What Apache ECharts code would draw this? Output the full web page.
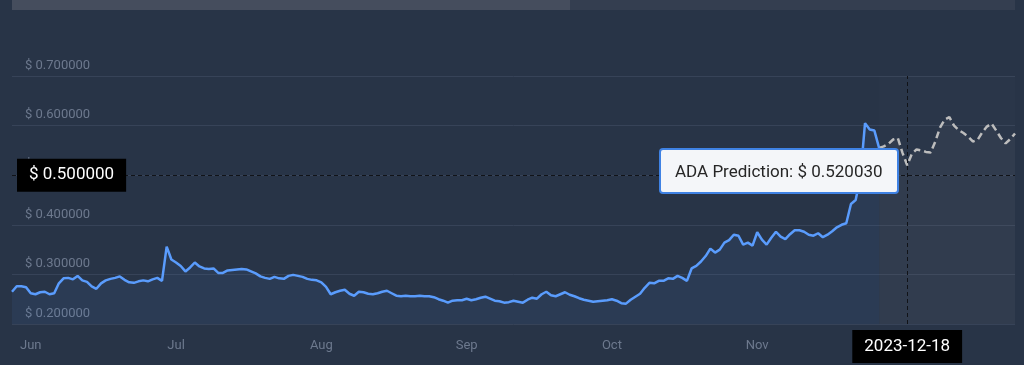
<!DOCTYPE html>
<html>
<head>
<meta charset="utf-8">
<script src="https://cdn.jsdelivr.net/npm/echarts@6/dist/echarts.min.js"></script>
<style>
  html, body { margin: 0; padding: 0; background: #283447; }
  #chart { width: 1024px; height: 365px; position: relative; }
</style>
</head>
<body>
<div id="chart"></div>
<script>
// ---- data ----
const startDate = '2023-06-10';
const dayCount = 215;

const historical = [
  0.265,0.276,0.276,0.274,0.262,0.260,0.264,0.265,0.260,0.262,
  0.282,0.292,0.293,0.290,0.297,0.288,0.285,0.276,0.271,0.282,
  0.288,0.291,0.293,0.296,0.289,0.284,0.283,0.286,0.288,0.286,
  0.290,0.293,0.287,0.356,0.330,0.324,0.317,0.306,0.314,0.324,
  0.316,0.312,0.311,0.312,0.303,0.303,0.308,0.309,0.310,0.311,
  0.310,0.306,0.302,0.296,0.293,0.291,0.295,0.292,0.291,0.297,
  0.299,0.297,0.295,0.291,0.289,0.288,0.284,0.275,0.260,0.264,
  0.267,0.269,0.261,0.257,0.265,0.264,0.261,0.260,0.262,0.265,
  0.267,0.262,0.257,0.256,0.257,0.256,0.256,0.257,0.256,0.256,
  0.254,0.250,0.247,0.243,0.247,0.248,0.248,0.251,0.248,0.250,
  0.253,0.255,0.251,0.247,0.246,0.243,0.244,0.247,0.245,0.243,
  0.249,0.253,0.251,0.260,0.265,0.258,0.256,0.260,0.264,0.259,
  0.256,0.252,0.249,0.247,0.245,0.246,0.247,0.248,0.250,0.247,
  0.242,0.241,0.249,0.255,0.261,0.273,0.283,0.282,0.287,0.287,
  0.292,0.291,0.297,0.293,0.287,0.312,0.317,0.326,0.337,0.352,
  0.344,0.350,0.364,0.369,0.380,0.378,0.360,0.364,0.358,0.385,
  0.370,0.360,0.374,0.386,0.376,0.371,0.381,0.389,0.389,0.386,
  0.380,0.378,0.383,0.375,0.380,0.387,0.395,0.400,0.403,0.442,
  0.450,0.495,0.605,0.592,0.590,0.555
];

// prediction starts at the last historical day
const predictionStartIndex = 185;
const prediction = [
  0.555,0.558,0.563,0.572,0.575,0.545,0.520030,0.543,0.552,0.550,
  0.547,0.546,0.568,0.596,0.612,0.617,0.600,0.591,0.585,0.578,
  0.568,0.571,0.586,0.598,0.604,0.590,0.575,0.564,0.573,0.584
];

const tickDates  = ['2023-06-14','2023-07-15','2023-08-15','2023-09-15','2023-10-16','2023-11-16'];
const tickLabels = ['Jun','Jul','Aug','Sep','Oct','Nov'];

const hoverDate = '2023-12-18';
const hoverYValue = 0.5;

// ---- build ----
const categories = [];
{
  const d0 = new Date(startDate + 'T00:00:00Z');
  for (let i = 0; i < dayCount; i++) {
    const d = new Date(d0.getTime() + i * 86400000);
    categories.push(d.toISOString().slice(0, 10));
  }
}
const histData = categories.map((c, i) => i < historical.length ? historical[i] : null);
const predData = categories.map((c, i) => {
  const j = i - predictionStartIndex;
  return (j >= 0 && j < prediction.length) ? prediction[j] : null;
});

const chart = echarts.init(document.getElementById('chart'), null, { renderer: 'canvas' });
const FONT = 'Roboto, "Noto Sans", sans-serif';

chart.setOption({
  animation: false,
  backgroundColor: '#283447',
  textStyle: { fontFamily: FONT },
  graphic: [
    { type: 'rect', shape: { x: 12, y: 0, width: 558, height: 10 }, style: { fill: '#454d5d' }, z: 10 },
    { type: 'rect', shape: { x: 570, y: 0, width: 445, height: 10 }, style: { fill: '#343e50' }, z: 10 }
  ],
  grid: { left: 12, right: 9, top: 76, bottom: 41, containLabel: false },
  tooltip: {
    trigger: 'axis',
    triggerOn: 'none',
    alwaysShowContent: true,
    transitionDuration: 0,
    backgroundColor: '#f4f6f9',
    borderColor: '#3f82e4',
    borderWidth: 2,
    padding: [8, 14],
    textStyle: { color: '#262626', fontSize: 17, fontFamily: FONT },
    extraCssText: 'box-shadow:none;border-radius:4px;',
    position: function (point, params, dom, rect, size) {
      return [point[0] - size.contentSize[0] - 8, point[1] - size.contentSize[1] / 2 - 4];
    },
    formatter: function (params) {
      const pred = params.find(p => p.seriesName === 'ADA Prediction' && p.value != null);
      const p = pred || params.find(q => q.value != null);
      if (!p) return '';
      return p.seriesName + ': $ ' + Number(p.value).toFixed(6);
    },
    axisPointer: {
      type: 'cross',
      lineStyle: { color: '#111318', width: 1, type: [4, 3] },
      crossStyle: { color: '#111318', width: 1, type: [4, 3] },
      label: {
        backgroundColor: '#000000',
        color: '#ffffff',
        fontSize: 17,
        fontFamily: FONT,
        padding: [8, 12, 8, 12],
        borderRadius: 0,
        shadowBlur: 0
      }
    }
  },
  xAxis: {
    type: 'category',
    data: categories,
    boundaryGap: false,
    axisLine: { show: false },
    axisTick: { show: false },
    splitLine: { show: false },
    axisLabel: {
      color: '#6d798e',
      fontSize: 13,
      margin: 15,
      interval: function (index, value) { return tickDates.indexOf(value) >= 0; },
      formatter: function (value) {
        const k = tickDates.indexOf(value);
        return k >= 0 ? tickLabels[k] : '';
      }
    },
    axisPointer: {
      label: { margin: 6 }
    }
  },
  yAxis: {
    type: 'value',
    min: 0.2,
    max: 0.7,
    interval: 0.1,
    axisLine: { show: false },
    axisTick: { show: false },
    splitLine: { lineStyle: { color: '#374358', width: 1 } },
    axisLabel: {
      inside: true,
      color: '#6d798e',
      fontSize: 13,
      margin: 13,
      verticalAlign: 'bottom',
      padding: [0, 0, 4, 0],
      formatter: function (v) { return '$ ' + v.toFixed(6); }
    },
    axisPointer: {
      label: {
        margin: 5,
        formatter: function (p) { return '$ ' + Number(p.value).toFixed(6); }
      }
    }
  },
  series: [
    {
      name: 'ADA Price',
      type: 'line',
      data: histData,
      showSymbol: false,
      symbol: 'none',
      connectNulls: false,
      lineStyle: { color: '#528ee6', width: 2.5 },
      itemStyle: { color: '#528ee6' },
      areaStyle: { color: 'rgba(82,142,230,0.10)' },
      z: 3
    },
    {
      name: 'ADA Prediction',
      type: 'line',
      data: predData,
      showSymbol: false,
      symbol: 'none',
      lineStyle: { color: '#acacac', width: 2.5, type: [7, 4] },
      itemStyle: { color: '#acacac' },
      areaStyle: { color: 'rgba(140,140,140,0.09)' },
      markArea: {
        silent: true,
        itemStyle: { color: 'rgba(255,255,255,0.012)' },
        data: [[{ xAxis: categories[predictionStartIndex] }, { xAxis: categories[dayCount - 1] }]]
      },
      z: 2
    }
  ]
});

const px = chart.convertToPixel({ xAxisIndex: 0 }, hoverDate);
const py = chart.convertToPixel({ yAxisIndex: 0 }, hoverYValue);
chart.dispatchAction({ type: 'showTip', x: px, y: py });
</script>
</body>
</html>
